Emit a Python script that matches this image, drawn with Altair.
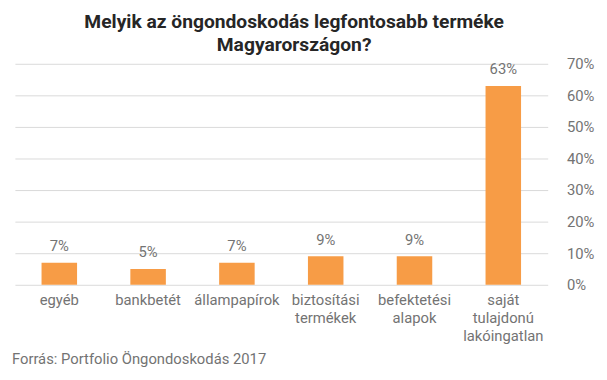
import altair as alt
import pandas as pd

categories = ["egyéb", "bankbetét", "állampapírok", "biztosítási\ntermékek", "befektetési\nalapok", "saját\ntulajdonú\nlakóingatlan"]
values = [7, 5, 7, 9, 9, 63]
title_lines = ["Melyik az öngondoskodás legfontosabb terméke", "Magyarországon?"]
source = "Forrás: Portfolio Öngondoskodás 2017"

df = pd.DataFrame({"cat": categories, "val": values})
df["lbl"] = df["val"].astype(str) + "%"

FONT = "Roboto"
GRAY = "#737373"
ORANGE = "#F79C46"
FS = 15

x = alt.X("cat:N", sort=categories, title=None,
          scale=alt.Scale(paddingInner=0.6, paddingOuter=0.3),
          axis=alt.Axis(labelAngle=0, labelExpr="split(datum.label, '\\n')",
                        ticks=False, domain=False, labelFont=FONT, labelFontSize=FS,
                        labelColor=GRAY, labelPadding=8, labelLineHeight=18))
y = alt.Y("val:Q", title=None,
          scale=alt.Scale(domain=[0, 70]),
          axis=alt.Axis(orient="right", values=[0, 10, 20, 30, 40, 50, 60, 70],
                        labelExpr="datum.value + '%'", ticks=False, domain=False,
                        labelOverlap=False, tickCount=8,
                        gridColor="#d9d9d9", labelFont=FONT, labelFontSize=FS,
                        labelColor=GRAY, labelPadding=19))

bars = alt.Chart(df).mark_bar(color=ORANGE).encode(x=x, y=y)
texts = alt.Chart(df).mark_text(dy=-9, baseline="bottom", font=FONT, fontSize=FS, color=GRAY).encode(
    x=x, y=y, text="lbl:N")
src = alt.Chart(alt.Data(values=[{"t": source}])).mark_text(
    align="left", baseline="middle", font=FONT, fontSize=FS, color=GRAY).encode(
    x=alt.value(-3), y=alt.value(299), text="t:N")

chart = alt.layer(bars, texts, src).properties(
    width=540, height=224,
    title=alt.TitleParams(title_lines, font=FONT, fontSize=19.5, fontWeight="bold",
                          color="#262626", anchor="middle", frame="group",
                          lineHeight=24, offset=1, dx=13),
    autosize=alt.AutoSizeParams(type="none"),
    padding={"left": 7, "top": 54, "right": 52, "bottom": 96},
).configure_view(stroke=None)

chart.save("out.html", embed_options={"renderer": "svg", "actions": False})
